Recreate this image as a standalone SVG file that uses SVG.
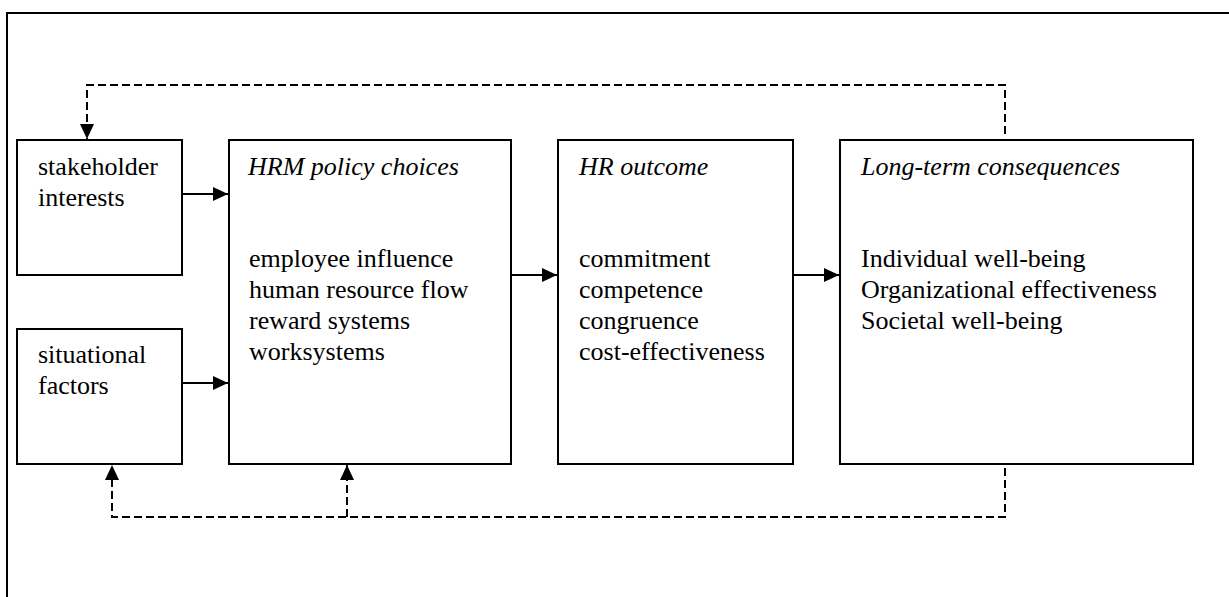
<svg xmlns="http://www.w3.org/2000/svg" width="1229" height="597" viewBox="0 0 1229 597">
  <style>
    .box { fill: #fff; stroke: #000; stroke-width: 2; }
    .t { font-family: 'Liberation Serif', 'Times New Roman', serif; font-size: 26px; fill: #000; }
    .it { font-style: italic; }
    .solid { fill: none; stroke: #000; stroke-width: 2; }
    .dash { fill: none; stroke: #000; stroke-width: 2; stroke-dasharray: 8 4; }
  </style>
  <defs>
    <marker id="ah" markerUnits="userSpaceOnUse" markerWidth="16" markerHeight="16" viewBox="0 0 16 16" refX="15" refY="8" orient="auto">
      <path d="M0,1 L15,8 L0,15 Z" fill="#000"/>
    </marker>
  </defs>
  <rect width="1229" height="597" fill="#fff"/>
  <path d="M7,597 V13 H1229" fill="none" stroke="#000" stroke-width="2"/>

  <g id="stakeholder">
    <rect class="box" x="17" y="140" width="165" height="135"/>
    <text class="t" x="38" y="175">stakeholder</text>
    <text class="t" x="38" y="206">interests</text>
  </g>
  <g id="situational">
    <rect class="box" x="17" y="329" width="165" height="135"/>
    <text class="t" x="38" y="363">situational</text>
    <text class="t" x="38" y="394">factors</text>
  </g>
  <g id="hrm">
    <rect class="box" x="229" y="140" width="282" height="324"/>
    <text class="t it" x="248" y="175">HRM policy choices</text>
    <text class="t" x="249" y="267">employee influence</text>
    <text class="t" x="249" y="298">human resource flow</text>
    <text class="t" x="249" y="329">reward systems</text>
    <text class="t" x="249" y="360">worksystems</text>
  </g>
  <g id="outcome">
    <rect class="box" x="558" y="140" width="235" height="324"/>
    <text class="t it" x="579" y="175">HR outcome</text>
    <text class="t" x="579" y="267">commitment</text>
    <text class="t" x="579" y="298">competence</text>
    <text class="t" x="579" y="329">congruence</text>
    <text class="t" x="579" y="360">cost-effectiveness</text>
  </g>
  <g id="consequences">
    <rect class="box" x="840" y="140" width="353" height="324"/>
    <text class="t it" x="861" y="175">Long-term consequences</text>
    <text class="t" x="861" y="267">Individual well-being</text>
    <text class="t" x="861" y="298">Organizational effectiveness</text>
    <text class="t" x="861" y="329">Societal well-being</text>
  </g>

  <g id="connectors">
    <path class="solid" d="M182,194 H228" marker-end="url(#ah)"/>
    <path class="solid" d="M182,383 H228" marker-end="url(#ah)"/>
    <path class="solid" d="M511,275 H557" marker-end="url(#ah)"/>
    <path class="solid" d="M793,275 H839" marker-end="url(#ah)"/>
    <path class="dash" d="M1005,134 V85 H87 V139" marker-end="url(#ah)"/>
    <path class="dash" d="M1005,468 V517 H112 V465" marker-end="url(#ah)"/>
    <path class="dash" d="M347,517 V465" marker-end="url(#ah)"/>
  </g>
</svg>
